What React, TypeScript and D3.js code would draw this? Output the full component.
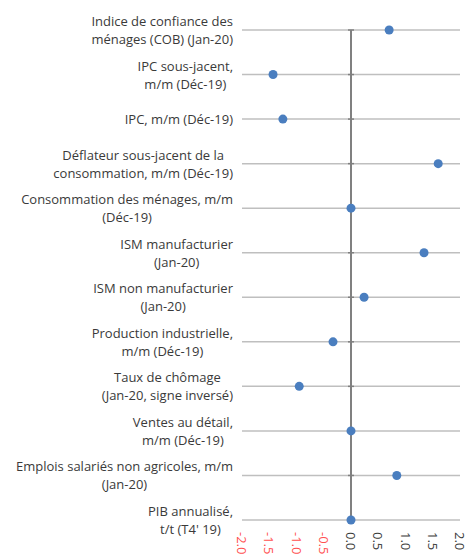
import React from "react";
import * as d3 from "d3";

const categories: string[][] = [
  ["Indice de confiance des", "ménages (COB) (Jan-20)"],
  ["IPC sous-jacent,", "m/m (Déc-19)"],
  ["IPC, m/m (Déc-19)"],
  ["Déflateur sous-jacent de la", "consommation, m/m (Déc-19)"],
  ["Consommation des ménages, m/m", "(Déc-19)"],
  ["ISM manufacturier", "(Jan-20)"],
  ["ISM non manufacturier", "(Jan-20)"],
  ["Production industrielle,", "m/m (Déc-19)"],
  ["Taux de chômage", "(Jan-20, signe inversé)"],
  ["Ventes au détail,", "m/m (Déc-19)"],
  ["Emplois salariés non agricoles, m/m", "(Jan-20)"],
  ["PIB annualisé,", "t/t (T4' 19)"],
];
const values: number[] = [0.7, -1.43, -1.25, 1.6, 0.0, 1.34, 0.24, -0.33, -0.95, 0.0, 0.84, 0.0];
const ticks: number[] = [-2, -1.5, -1, -0.5, 0, 0.5, 1, 1.5, 2];

export default function App() {
  const W = 471, H = 554;
  const x = d3.scaleLinear().domain([-2, 2]).range([242, 460]);
  const y = d3.scalePoint<number>().domain(d3.range(categories.length)).range([30, 520]);
  const font = "'Open Sans', sans-serif";
  const textColor = "#3a3a3a";
  return (
    <svg width={W} height={H} style={{ position: "absolute", left: 0, top: 0 }} fontFamily={font}>
      {categories.map((c, i) => (
        <line key={"g" + i} x1={x(-2)} x2={x(2)} y1={y(i)} y2={y(i)} stroke="#bfbfbf" strokeWidth={1.5} />
      ))}
      <line x1={x(0)} x2={x(0)} y1={y(0)} y2={y(categories.length - 1)} stroke="#808080" strokeWidth={2} />
      {categories.map((c, i) => (
        <line key={"t" + i} x1={x(0) - 3} x2={x(0) + 3} y1={y(i)} y2={y(i)} stroke="#808080" strokeWidth={1.5} />
      ))}
      {categories.map((c, i) => {
        const lh = 18;
        const y0 = (y(i) as number) - ((c.length - 1) * lh) / 2;
        return (
          <text key={"l" + i} fontSize={13} fill={textColor} textAnchor="middle" dominantBaseline="central">
            {c.map((s, j) => (
              <tspan key={j} x={233} y={y0 + j * lh}>{s}</tspan>
            ))}
          </text>
        );
      })}
      {values.map((v, i) => (
        <circle key={"p" + i} cx={x(v)} cy={y(i)} r={4.5} fill="#4a7ebf" />
      ))}
      {ticks.map((t) => (
        <text
          key={"x" + t}
          transform={`translate(${x(t)},532) rotate(90)`}
          fontSize={13}
          fill={t < 0 ? "#ff5050" : textColor}
          dominantBaseline="central"
          textAnchor="start"
        >
          {t.toFixed(1)}
        </text>
      ))}
      <Aligner />
    </svg>
  );
}

function Aligner() {
  const ref = React.useRef<SVGGElement>(null);
  React.useEffect(() => {
    const svg = ref.current?.ownerSVGElement;
    if (!svg) return;
    const texts = Array.from(svg.querySelectorAll("text")).filter((t) => t.querySelector("tspan"));
    texts.forEach((t) => {
      const spans = Array.from(t.querySelectorAll("tspan")) as SVGTSpanElement[];
      const maxW = Math.max(...spans.map((s) => s.getComputedTextLength()));
      const cx = 233 - maxW / 2;
      spans.forEach((s) => s.setAttribute("x", String(cx)));
    });
  }, []);
  return <g ref={ref} />;
}
